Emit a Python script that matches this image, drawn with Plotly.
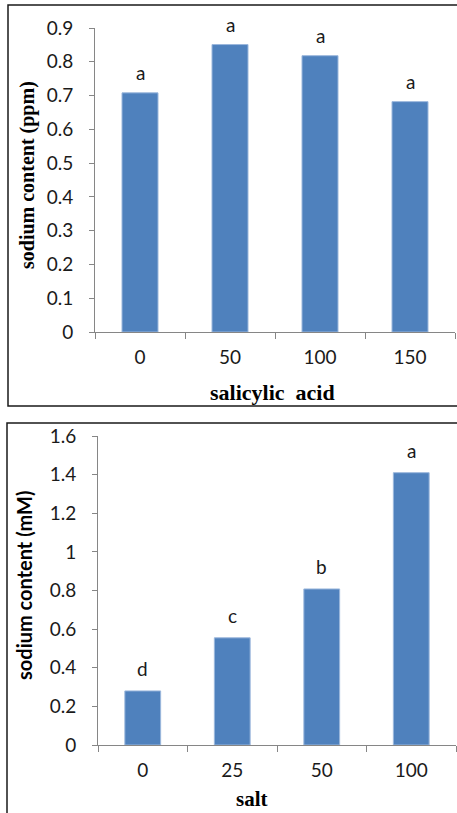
import plotly.graph_objects as go

W, H = 457, 813

# ---- data ----
sa_categories = ["0", "50", "100", "150"]
sa_values = [0.708, 0.851, 0.818, 0.682]
sa_letters = ["a", "a", "a", "a"]

salt_categories = ["0", "25", "50", "100"]
salt_values = [0.28, 0.555, 0.808, 1.41]
salt_letters = ["d", "c", "b", "a"]

top_yticks = [0, 0.1, 0.2, 0.3, 0.4, 0.5, 0.6, 0.7, 0.8, 0.9]
top_yticklabels = ["0", "0.1", "0.2", "0.3", "0.4", "0.5", "0.6", "0.7", "0.8", "0.9"]
bot_yticks = [0, 0.2, 0.4, 0.6, 0.8, 1.0, 1.2, 1.4, 1.6]
bot_yticklabels = ["0", "0.2", "0.4", "0.6", "0.8", "1", "1.2", "1.4", "1.6"]

BAR = "#4F81BD"
AXIS = "#868686"
TICKFONT = dict(family="Lato", size=19, color="#1a1a1a")


def px_x(p):
    return p / W


def px_y(p):
    return 1 - p / H


fig = go.Figure()

fig.add_trace(go.Bar(
    x=sa_categories, y=sa_values, width=0.4,
    marker=dict(color=BAR, line=dict(color="#9bb7dc", width=1)),
    xaxis="x", yaxis="y", showlegend=False, hoverinfo="skip",
))
fig.add_trace(go.Bar(
    x=salt_categories, y=salt_values, width=0.4,
    marker=dict(color=BAR, line=dict(color="#9bb7dc", width=1)),
    xaxis="x2", yaxis="y2", showlegend=False, hoverinfo="skip",
))

common_x = dict(
    type="category", showline=True, linecolor=AXIS, linewidth=1,
    ticks="outside", tickson="boundaries", ticklen=6, tickcolor=AXIS,
    showgrid=False, zeroline=False, tickfont=TICKFONT, fixedrange=True,
    ticklabelstandoff=8, range=[-0.5, 3.5], tickangle=0, automargin=False,
)
common_y = dict(
    showline=True, linecolor=AXIS, linewidth=1, ticks="outside", ticklen=5,
    tickcolor=AXIS, showgrid=False, zeroline=False, tickfont=TICKFONT,
    fixedrange=True, ticklabelstandoff=12, automargin=False,
)

fig.update_layout(
    template="none",
    width=W, height=H,
    margin=dict(l=0, r=0, t=0, b=0, pad=0, autoexpand=False),
    paper_bgcolor="white", plot_bgcolor="white",
    bargap=0.6,
    xaxis=dict(domain=[px_x(95), px_x(455)], anchor="y", **common_x),
    yaxis=dict(domain=[px_y(332), px_y(28)], anchor="x", range=[0, 0.9],
               tickvals=top_yticks, ticktext=top_yticklabels, **common_y),
    xaxis2=dict(domain=[px_x(98), px_x(456)], anchor="y2", **common_x),
    yaxis2=dict(domain=[px_y(745), px_y(436)], anchor="x2", range=[0, 1.6],
                tickvals=bot_yticks, ticktext=bot_yticklabels, **common_y),
)

# panel borders
fig.add_shape(type="rect", xref="paper", yref="paper",
              x0=px_x(8), x1=1.02, y0=px_y(406), y1=px_y(5),
              line=dict(color="#1a1a1a", width=1.5), fillcolor="rgba(0,0,0,0)", layer="below")
fig.add_shape(type="rect", xref="paper", yref="paper",
              x0=px_x(7), x1=1.02, y0=-0.02, y1=px_y(423),
              line=dict(color="#1a1a1a", width=1.5), fillcolor="rgba(0,0,0,0)", layer="below")

annotations = []
for i, (v, t) in enumerate(zip(sa_values, sa_letters)):
    annotations.append(dict(x=i, y=v, xref="x", yref="y", text=t, showarrow=False,
                            yanchor="middle", yshift=20, font=TICKFONT))
for i, (v, t) in enumerate(zip(salt_values, salt_letters)):
    annotations.append(dict(x=i, y=v, xref="x2", yref="y2", text=t, showarrow=False,
                            yanchor="middle", yshift=22, font=TICKFONT))

SERIF_B = dict(family="Liberation Serif", size=22, color="black")
annotations += [
    dict(text="<b>sodium content (ppm)</b>", xref="paper", yref="paper",
         x=px_x(28), y=px_y(175), textangle=-90, showarrow=False,
         xanchor="center", yanchor="middle", font=dict(SERIF_B, size=20)),
    dict(text="<b>salicylic\u00a0 acid</b>", xref="paper", yref="paper",
         x=px_x(272), y=px_y(392), showarrow=False,
         xanchor="center", yanchor="middle", font=SERIF_B),
    dict(text="<b>sodium content (mM)</b>", xref="paper", yref="paper",
         x=px_x(24), y=px_y(585), textangle=-90, showarrow=False,
         xanchor="center", yanchor="middle",
         font=dict(family="Lato", size=20, color="black")),
    dict(text="<b>salt</b>", xref="paper", yref="paper",
         x=px_x(252), y=px_y(799), showarrow=False,
         xanchor="center", yanchor="middle", font=dict(SERIF_B, size=21)),
]
fig.update_layout(annotations=annotations)

fig.write_html(
    "out.html",
    config={"displayModeBar": False},
    post_script="document.body.style.margin='0';document.body.style.overflow='hidden';",
)
